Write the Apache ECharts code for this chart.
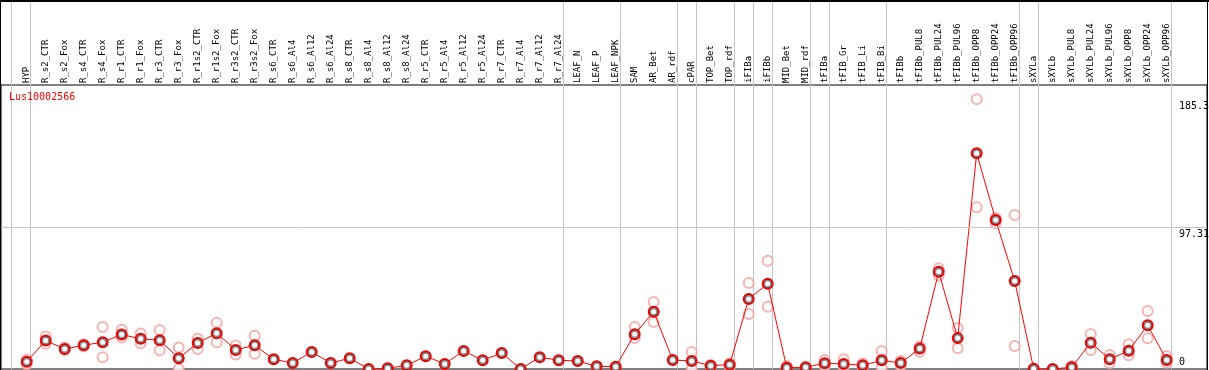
<!DOCTYPE html>
<html>
<head>
<meta charset="utf-8">
<script src="https://cdn.jsdelivr.net/npm/echarts@6/dist/echarts.min.js"></script>
<style>
  html, body { margin: 0; padding: 0; background: #fff; }
  #chart { width: 1209px; height: 370px; }
</style>
</head>
<body>
<div id="chart"></div>
<script>
const geneName = 'Lus10002566';

const categories = [
  'HYP', 'R_s2_CTR', 'R_s2_Fox', 'R_s4_CTR', 'R_s4_Fox', 'R_r1_CTR', 'R_r1_Fox',
  'R_r3_CTR', 'R_r3_Fox', 'R_r1s2_CTR', 'R_r1s2_Fox', 'R_r3s2_CTR', 'R_r3s2_Fox',
  'R_s6_CTR', 'R_s6_Al4', 'R_s6_Al12', 'R_s6_Al24', 'R_s8_CTR', 'R_s8_Al4',
  'R_s8_Al12', 'R_s8_Al24', 'R_r5_CTR', 'R_r5_Al4', 'R_r5_Al12', 'R_r5_Al24',
  'R_r7_CTR', 'R_r7_Al4', 'R_r7_Al12', 'R_r7_Al24', 'LEAF_N', 'LEAF_P', 'LEAF_NPK',
  'SAM', 'AR_Bet', 'AR_rdf', 'cPAR', 'TOP_Bet', 'TOP_rdf', 'iFIBa', 'iFIBb',
  'MID_Bet', 'MID_rdf', 'tFIBa', 'tFIB_Gr', 'tFIB_Li', 'tFIB_Bi', 'tFIBb',
  'tFIBb_PUL8', 'tFIBb_PUL24', 'tFIBb_PUL96', 'tFIBb_OPP8', 'tFIBb_OPP24', 'tFIBb_OPP96',
  'sXYLa', 'sXYLb', 'sXYLb_PUL8', 'sXYLb_PUL24', 'sXYLb_PUL96', 'sXYLb_OPP8',
  'sXYLb_OPP24', 'sXYLb_OPP96'
];

// mean expression (red line)
const meanValues = [
  5.0, 19.5, 13.8, 16.3, 18.4, 23.7, 20.7, 19.8, 7.4, 17.9, 24.6, 13.1, 16.3,
  6.7, 4.1, 11.7, 4.1, 7.4, 0, 0.5, 2.5, 8.8, 3.5, 12.4, 6.0, 11.0, 0, 8.1, 6.0,
  5.5, 1.9, 1.6,
  23.9, 39.3, 6.2, 5.5, 2.3, 3.0, 48.1, 58.5, 0.9, 1.2, 3.9, 3.5, 2.5, 6.0, 4.1,
  14.0, 66.7, 21.2, 148.1, 102.3, 60.4,
  0.2, 0, 1.2, 18.1, 6.7, 12.6, 30.0, 6.2
];

// replicates (light circles)
const repA = [
  6.5, 22.3, 14.7, 17.0, 28.8, 26.9, 24.4, 26.7, 14.7, 20.7, 31.7, 16.1, 22.8,
  null, null, null, null, null, null, null, null, null, null, null, null, null, null, null, null,
  null, null, null,
  28.8, 46.0, null, 11.7, 2.8, 4.0, 59.1, 74.3, 2.0, null, 6.2, 6.7, 3.7, 12.4, 5.5,
  15.4, 69.2, 28.1, 185.3, 103.7, 105.8,
  null, null, 2.0, 24.1, 9.6, 17.0, 39.8, 8.9
];
const repB = [
  3.2, 17.3, 13.1, 15.6, 8.1, 21.6, 17.7, 12.9, 0, 13.8, 18.4, 9.9, 10.4,
  null, null, null, null, null, null, null, null, null, null, null, null, null, null, null, null,
  null, null, null,
  21.2, 32.2, null, 0, 1.8, 1.5, 37.7, 42.8, 0.2, null, 2.0, 1.0, 0.9, 0.9, 2.0,
  11.9, 64.2, 14.3, 111.1, 100.0, 15.8,
  null, null, 0.5, 13.1, 3.9, 9.4, 21.1, 4.3
];

// group separators drawn after these sample indices
const groupEnds = [-1, 0, 28, 31, 34, 35, 37, 38, 39, 41, 42, 45, 52, 53, 60];

const yTickValues = [0, 97.31, 185.3];
const yTickLabels = ['0', '97.31', '185.3'];

const mono = 'DejaVu Sans Mono';
const chart = echarts.init(document.getElementById('chart'), null, { renderer: 'canvas' });

const toPairs = arr => arr.map((v, i) => (v == null ? null : [i, v])).filter(p => p);

const option = {
  animation: false,
  backgroundColor: '#fff',
  title: {
    text: geneName,
    left: 9,
    top: 92,
    padding: 0,
    textStyle: { color: '#ff0000', fontFamily: mono, fontSize: 10, fontWeight: 'normal' }
  },
  grid: {
    left: 1,
    right: 2,
    top: 85,
    bottom: 1,
    outerBoundsMode: 'none',
    containLabel: false,
    show: true,
    borderColor: '#000',
    borderWidth: 1
  },
  xAxis: {
    type: 'value',
    position: 'top',
    min: -1.3526,
    max: 62.121,
    axisLine: { show: false },
    axisTick: { show: false },
    splitLine: { show: false },
    axisLabel: {
      customValues: categories.map((c, i) => i),
      formatter: v => categories[v] || '',
      rotate: 90,
      margin: 2,
      color: '#000',
      fontFamily: mono,
      fontSize: 9
    }
  },
  yAxis: {
    type: 'value',
    position: 'right',
    min: 0,
    max: 195,
    axisLine: { show: false },
    axisTick: { show: false },
    splitLine: { show: false },
    axisLabel: {
      inside: true,
      customValues: yTickValues,
      formatter: v => {
        const k = yTickValues.indexOf(v);
        const txt = k >= 0 ? yTickLabels[k] : '';
        return v === 0 ? '{lo|' + txt + '}' : '{hi|' + txt + '}';
      },
      align: 'left',
      verticalAlign: 'middle',
      margin: 28,
      color: '#000',
      fontFamily: mono,
      fontSize: 10,
      rich: {
        hi: { fontFamily: mono, fontSize: 10, color: '#000', padding: [14, 0, 0, 0] },
        lo: { fontFamily: mono, fontSize: 10, color: '#000', padding: [0, 0, 14, 0] }
      }
    }
  },
  series: [
    {
      name: 'repA',
      type: 'scatter',
      data: toPairs(repA),
      symbol: 'emptyCircle',
      symbolSize: 10,
      itemStyle: { color: '#f4a0a0', borderColor: '#f4a0a0', borderWidth: 1.5 },
      z: 3
    },
    {
      name: 'repB',
      type: 'scatter',
      data: toPairs(repB),
      symbol: 'emptyCircle',
      symbolSize: 10,
      itemStyle: { color: '#f4a0a0', borderColor: '#f4a0a0', borderWidth: 1.5 },
      z: 3
    },
    {
      name: 'mean',
      type: 'line',
      data: toPairs(meanValues),
      symbol: 'emptyCircle',
      symbolSize: 10,
      showAllSymbol: true,
      lineStyle: { color: '#ff0000', width: 1 },
      itemStyle: { color: '#ff0000', borderColor: '#ff0000', borderWidth: 1.2 },
      z: 4,
      markLine: {
        silent: true,
        symbol: 'none',
        label: { show: false },
        lineStyle: { color: '#c4c4c4', width: 1, type: 'solid' },
        data: [{ yAxis: yTickValues[1] }]
      }
    },
    {
      name: 'meanInner',
      type: 'scatter',
      data: toPairs(meanValues),
      symbol: 'emptyCircle',
      symbolSize: 7,
      itemStyle: { color: 'rgba(0,0,0,0.6)', borderColor: 'rgba(0,0,0,0.6)', borderWidth: 1 },
      z: 5
    }
  ]
};

chart.setOption(option);

// separators and outer frame, positioned through the axis scale
const bottomY = chart.convertToPixel({ yAxisIndex: 0 }, 0);
const sepLines = groupEnds.map(g => {
  const x = Math.round(chart.convertToPixel({ xAxisIndex: 0 }, g + 0.2)) + 0.5;
  return {
    type: 'line',
    z: 1,
    silent: true,
    shape: { x1: x, y1: 0, x2: x, y2: bottomY },
    style: { stroke: '#c4c4c4', lineWidth: 1 }
  };
});
chart.setOption({
  graphic: sepLines.concat([
    { type: 'line', z: 10, shape: { x1: 0, y1: 1, x2: 1209, y2: 1 }, style: { stroke: '#000', lineWidth: 2 } },
    { type: 'line', z: 10, shape: { x1: 0.5, y1: 0, x2: 0.5, y2: 370 }, style: { stroke: '#000', lineWidth: 1 } },
    { type: 'line', z: 10, shape: { x1: 1207.5, y1: 0, x2: 1207.5, y2: 370 }, style: { stroke: '#000', lineWidth: 1 } }
  ])
});

window.addEventListener('resize', () => chart.resize());
</script>
</body>
</html>
